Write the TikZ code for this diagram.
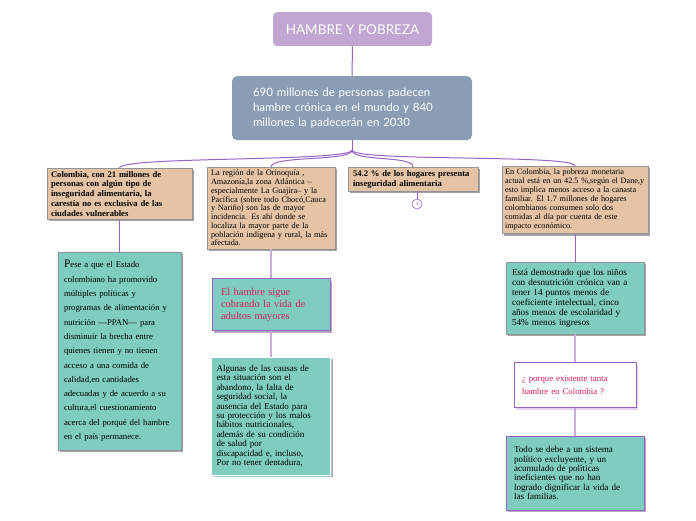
\documentclass[tikz,border=0pt]{standalone}
\usepackage{fontspec}
\setmainfont{Liberation Serif}
\newfontfamily\mapsans{Lato}
\usetikzlibrary{positioning,shadows,calc}
\definecolor{mmLilac}{RGB}{194,166,210}
\definecolor{mmSlate}{RGB}{139,157,181}
\definecolor{mmTan}{RGB}{229,196,165}
\definecolor{mmTeal}{RGB}{127,204,192}
\definecolor{mmPurple}{RGB}{150,100,190}
\definecolor{mmLight}{RGB}{200,170,220}
\definecolor{mmRose}{RGB}{214,30,90}
\definecolor{mmShade}{RGB}{75,75,80}

\begin{document}
\begin{tikzpicture}[
    x=1pt, y=-1pt,
    every node/.style={anchor=north, align=left, inner ysep=3pt},
    topic/.style={rectangle, rounded corners=4pt, fill=mmLilac, text=white, align=center,
      font=\mapsans\fontsize{13.5}{16}\selectfont, minimum width=159pt, minimum height=34pt},
    central/.style={rectangle, rounded corners=5pt, fill=mmSlate, text=white,
      font=\mapsans\fontsize{11.5}{15}\selectfont, minimum height=64pt, inner xsep=21pt, text width=198pt},
    fact/.style={rectangle, fill=mmTan, draw=mmShade!60, line width=0.4pt,
      drop shadow={shadow xshift=2pt, shadow yshift=-2pt, fill=mmShade}},
    detail/.style={rectangle, fill=mmTeal, draw=mmShade!60, line width=0.4pt,
      drop shadow={shadow xshift=2pt, shadow yshift=-2pt, fill=mmShade}},
    framed/.style={rectangle, draw=mmPurple, line width=0.6pt,
      drop shadow={shadow xshift=2pt, shadow yshift=-2pt, fill=mmLight}},
    link/.style={draw=mmPurple, line width=1pt},
    stem/.style={draw=mmLight, line width=1.6pt},
    badge/.style={circle, draw=mmPurple, line width=0.6pt, inner sep=0pt, minimum size=10pt,
      text=mmPurple, anchor=center, font=\fontsize{6}{6}\selectfont}
]
  \useasboundingbox[fill=white] (0,0) rectangle (696,520);

  % centre of the map
  \node[topic] (title) at (352.5,12) {HAMBRE Y POBREZA};
  \node[central] (world) at (352,76) {690 millones de personas padecen\\hambre crónica en el mundo y 840\\millones la padecerán en 2030};
  \coordinate (hub) at (352,150);

  % first level
  \node[fact, minimum width=145pt, minimum height=50pt, inner xsep=4pt, text width=137pt,
    font=\bfseries\fontsize{8.6}{9.8}\selectfont] (colombia) at (119.5,168)
    {Colombia, con 21 millones de\\personas con algún tipo de\\inseguridad alimentaria, la\\carestía no es exclusiva de las\\ciudades vulnerables};
  \node[fact, minimum width=128pt, minimum height=81pt, inner xsep=4pt, text width=120pt,
    font=\fontsize{8.3}{8.75}\selectfont] (region) at (271,167)
    {La región de la Orinoquía ,\\Amazonía,la zona Atlántica –\\especialmente La Guajira– y la\\Pacífica (sobre todo Chocó,Cauca\\y Nariño) son las de mayor\\incidencia. Es ahí donde se\\localiza la mayor parte de la\\población indígena y rural, la más\\afectada.};
  \node[fact, minimum width=130pt, minimum height=24pt, inner xsep=5pt, text width=120pt,
    font=\bfseries\fontsize{8.6}{9.8}\selectfont] (hogares) at (413,167)
    {54.2 \% de los hogares presenta\\inseguridad alimentaria};
  \node[badge] (mark) at (417,204) {1};
  \node[fact, minimum width=146pt, minimum height=67pt, inner xsep=3pt, text width=140pt,
    font=\fontsize{8.2}{9}\selectfont] (pobreza) at (575,166)
    {En Colombia, la pobreza monetaria\\actual está en un 42.5 \%,según el Dane,y\\esto implica menos acceso a la canasta\\familiar. El 1.7 millones de hogares\\colombianos consumen solo dos\\comidas al día por cuenta de este\\impacto económico.};

  % second level
  \node[detail, minimum width=123pt, minimum height=198pt, inner xsep=6pt, text width=111pt,
    font=\fontsize{8.7}{14.3}\selectfont] (estado) [below=32pt of colombia]
    {{\fontsize{11.5}{14.3}\selectfont P}ese a que el Estado\\colombiano ha promovido\\múltiples políticas y\\programas de alimentación y\\nutrición —PPAN— para\\disminuir la brecha entre\\quienes tienen y no tienen\\acceso a una comida de\\calidad,en cantidades\\adecuadas y de acuerdo a su\\cultura,el cuestionamiento\\acerca del porqué del hambre\\en el país permanece.};
  \node[detail, framed, fill=mmTeal, minimum width=118pt, minimum height=52pt, inner xsep=9pt, text width=100pt,
    text=mmRose, font=\fontsize{10.4}{12}\selectfont] (mayores) [below=29pt of region]
    {El hambre sigue\\cobrando la vida de\\adultos mayores};
  \node[detail, draw=white, drop shadow={shadow xshift=1.5pt, shadow yshift=-1.5pt, fill=mmTeal!40},
    minimum width=119pt, minimum height=118pt, inner xsep=5pt, text width=109pt,
    font=\fontsize{9}{9.4}\selectfont] (causas) [below=26pt of mayores]
    {Algunas de las causas de\\esta situación son el\\abandono, la falta de\\seguridad social, la\\ausencia del Estado para\\su protección y los malos\\hábitos nutricionales,\\además de su condición\\de salud por\\discapacidad e, incluso,\\Por no tener dentadura,};
  \node[detail, minimum width=138pt, minimum height=72pt, inner xsep=6pt, text width=126pt,
    font=\fontsize{9.2}{10}\selectfont] (ninos) [below=28pt of pobreza]
    {Está demostrado que los niños\\con desnutrición crónica van a\\tener 14 puntos menos de\\coeficiente intelectual, cinco\\años menos de escolaridad y\\54\% menos ingresos};
  \node[framed, fill=white, minimum width=122pt, minimum height=45pt, inner xsep=8pt, text width=106pt,
    text=mmRose, font=\fontsize{8.8}{13}\selectfont] (pregunta) [below=28pt of ninos]
    {¿ porque existente tanta\\hambre en Colombia ?};
  \node[detail, framed, fill=mmTeal, minimum width=138pt, minimum height=74pt, inner xsep=8pt, text width=122pt,
    font=\fontsize{9.1}{9.4}\selectfont] (sistema) [below=28pt of pregunta]
    {Todo se debe a un sistema\\político excluyente, y un\\acumulado de políticas\\ineficientes que no han\\logrado dignificar la vida de\\las familias.};

  % connectors
  \draw[link] (title.south) -- (world.north);
  \draw[link] (world.south) -- (hub);
  \foreach \kid in {colombia, region, hogares, pobreza}
    \draw[link] (hub) .. controls ($(hub)+(0,12)$) and ($(\kid.north)+(0,-12)$) .. (\kid.north);
  \draw[link] (mark.north |- hogares.south) -- (mark.north);
  \draw[link] (colombia.south) -- (estado.north);
  \draw[stem] (region.south) -- (mayores.north);
  \draw[stem] (mayores.south) -- (causas.north);
  \draw[link] (pobreza.south) -- (ninos.north);
  \draw[stem] (ninos.south) -- (pregunta.north);
  \draw[stem] (pregunta.south) -- (sistema.north);
\end{tikzpicture}
\end{document}
